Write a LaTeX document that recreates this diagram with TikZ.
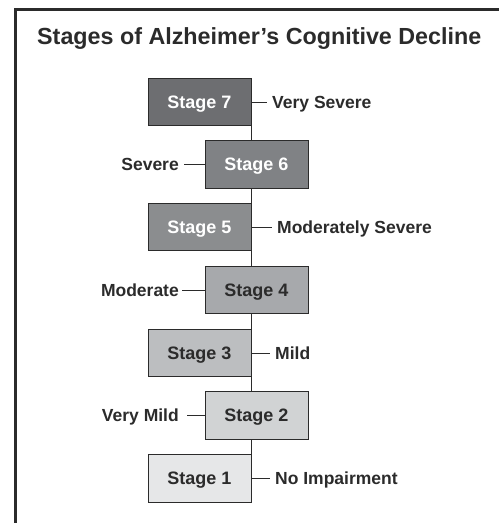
\documentclass[tikz,border=0pt]{standalone}
\usepackage{fontspec}
\setmainfont{Liberation Sans}
\usepackage{tikz}
\usepackage{xcolor}

\definecolor{gray7}{HTML}{6D6E71}
\definecolor{gray6}{HTML}{808285}
\definecolor{gray5}{HTML}{8B8D8F}
\definecolor{gray4}{HTML}{A7A9AC}
\definecolor{gray3}{HTML}{BCBEC0}
\definecolor{gray2}{HTML}{D1D3D4}
\definecolor{gray1}{HTML}{E6E7E8}
\definecolor{inkline}{HTML}{2B2B2B}

\begin{document}
\begin{tikzpicture}[x=1pt,y=-1pt,
  stagebox/.style={draw=inkline, line width=0.9pt, minimum width=103pt, minimum height=47.5pt,
    inner sep=0pt, text height=12.5pt, text depth=0pt, font=\fontsize{18}{20}\selectfont\bfseries},
  lbl/.style={inner sep=5pt, text height=12.5pt, text depth=0pt, text=inkline,
    font=\fontsize{17.5}{20}\selectfont\bfseries},
  link/.style={draw=inkline, line width=0.9pt}]
\useasboundingbox (0,0) rectangle (499,523);

% frame
\draw[inkline, line width=3pt] (15.5,523) -- (15.5,9.5) -- (499,9.5);

\node[anchor=base west, inner sep=0pt, text=inkline, font=\fontsize{23.3}{27}\selectfont\bfseries] (title) at (37,44) {Stages of Alzheimer’s Cognitive Decline};

% stages
\node[stagebox, fill=gray7, text=white] (s7) at (199.5,102) {Stage 7};
\node[stagebox, fill=gray6, text=white] (s6) at (256.5,164.5) {Stage 6};
\node[stagebox, fill=gray5, text=white] (s5) at (199.5,227) {Stage 5};
\node[stagebox, fill=gray4, text=inkline] (s4) at (256.5,290) {Stage 4};
\node[stagebox, fill=gray3, text=inkline] (s3) at (199.5,353) {Stage 3};
\node[stagebox, fill=gray2, text=inkline] (s2) at (256.5,415.5) {Stage 2};
\node[stagebox, fill=gray1, text=inkline] (s1) at (199.5,478.5) {Stage 1};

% spine between boxes
\draw[link] (s7.south east) -- (s7.south east |- s6.north);
\draw[link] (s5.north east |- s6.south) -- (s5.north east);
\draw[link] (s5.south east) -- (s5.south east |- s4.north);
\draw[link] (s3.north east |- s4.south) -- (s3.north east);
\draw[link] (s3.south east) -- (s3.south east |- s2.north);
\draw[link] (s1.north east |- s2.south) -- (s1.north east);

% labels
\node[lbl, anchor=west] (l7) at (267,102) {Very Severe};
\node[lbl, anchor=east] (l6) at (184,164.5) {Severe};
\node[lbl, anchor=west] (l5) at (272,227) {Moderately Severe};
\node[lbl, anchor=east, inner sep=3pt] (l4) at (182,290) {Moderate};
\node[lbl, anchor=west] (l3) at (270,353) {Mild};
\node[lbl, anchor=east, inner sep=8pt] (l2) at (187,415.5) {Very Mild};
\node[lbl, anchor=west] (l1) at (270,478.5) {No Impairment};

\draw[link] (s7.east) -- (l7.west);
\draw[link] (s6.west) -- (l6.east);
\draw[link] (s5.east) -- (l5.west);
\draw[link] (s4.west) -- (l4.east);
\draw[link] (s3.east) -- (l3.west);
\draw[link] (s2.west) -- (l2.east);
\draw[link] (s1.east) -- (l1.west);
\end{tikzpicture}
\end{document}
